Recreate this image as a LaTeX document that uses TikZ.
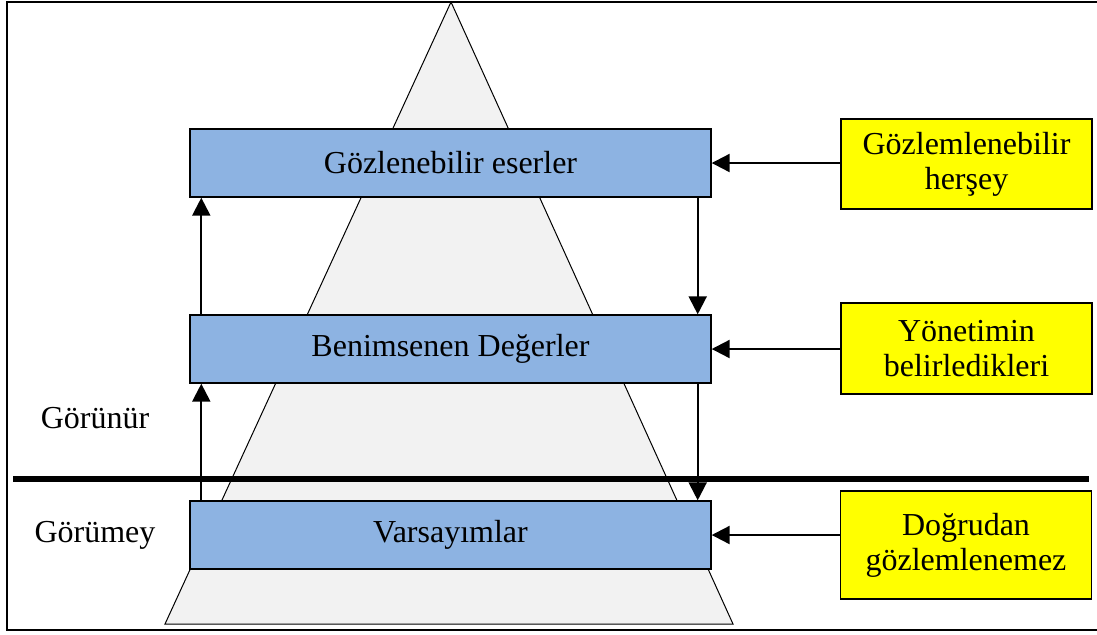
\documentclass[tikz,border=0pt]{standalone}
\usepackage{fontspec}
\setmainfont{Liberation Serif}
\usetikzlibrary{arrows.meta,positioning}
\definecolor{lblue}{HTML}{8DB3E2}
\definecolor{lyellow}{HTML}{FFFF00}
\definecolor{lgray}{HTML}{F2F2F2}

\tikzset{
  layer/.style={draw, line width=0.7pt, fill=lblue, inner sep=0pt,
    minimum width=260.5pt, minimum height=34pt},
  note/.style={draw, line width=0.7pt, fill=lyellow, inner sep=0pt,
    minimum width=125.5pt, align=center},
  flow/.style={-{Triangle[length=9pt,width=9pt]}, line width=1.1pt}
}

\begin{document}
\begin{tikzpicture}[x=0.5pt, y=-0.5pt, every node/.style={font=\fontsize{16}{17.5}\selectfont}]
    \useasboundingbox (0,0) rectangle (1097,634);
    % frame
    \draw[line width=1pt] (7,2) rectangle (1104,630);
    % pyramid
    \draw[line width=0.5pt, fill=lgray] (165,624) -- (451,2) -- (733,624) -- cycle;
    % visible / invisible border
    \coordinate (sepL) at (13,479);
    \coordinate (sepR) at (1089,479);
    \draw[line width=2.7pt] (sepL) -- (sepR);
    % layers
    \node[layer] (art) at (450.5,163) {Gözlenebilir eserler};
    \node[layer] (val) at (450.5,349) {Benimsenen Değerler};
    \node[layer] (ass) at (450.5,535) {Varsayımlar};
    % notes
    \node[note, minimum height=45pt] (nArt) at (966.5,164) {Gözlemlenebilir\\herşey};
    \node[note, minimum height=45.5pt] (nVal) at (966.5,348.5) {Yönetimin\\belirledikleri};
    \node[note, minimum height=54pt] (nAss) at (966,545) {Doğrudan\\gözlemlenemez};
    % side labels
    \node (vis) at (95,418) {Görünür};
    \node (invis) at (95,535) {Görümey};
    % arrows
    \foreach \lo/\hi in {val/art, ass/val}{
      \draw[flow] ([xshift=6pt]\lo.north west) -- ([xshift=6pt]\hi.south west);
    }
    \foreach \hi/\lo in {art/val, val/ass}{
      \draw[flow] ([xshift=-7pt]\hi.south east) -- ([xshift=-7pt]\lo.north east);
    }
    \foreach \n/\l in {nArt/art, nVal/val, nAss/ass}{
      \draw[flow] (\l.east -| \n.west) -- (\l.east);
    }
  \end{tikzpicture}
\end{document}
